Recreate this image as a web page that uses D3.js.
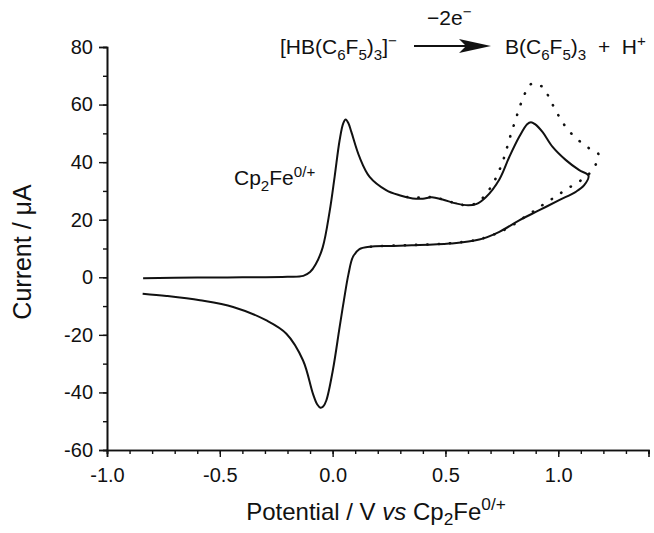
<!DOCTYPE html>
<html>
<head>
<meta charset="utf-8">
<script src="https://cdn.jsdelivr.net/npm/d3@7"></script>
<style>
  body { margin: 0; background: #fff; }
  text { font-family: "Liberation Sans", Arial, sans-serif; fill: #111; white-space: pre; }
</style>
</head>
<body>
<svg id="chart" width="654" height="533"></svg>
<script>
// solid CV loop (forward scan then return), potential in V, current in uA
var solidV = [-0.84, -0.6, -0.4, -0.2, -0.13, -0.10, -0.075, -0.044, -0.013, 0.009, 0.031, 0.047, 0.058, 0.070, 0.083,
  0.119, 0.164, 0.237, 0.296, 0.355, 0.40, 0.44, 0.487, 0.55, 0.60, 0.636, 0.68, 0.739, 0.783, 0.827, 0.862, 0.879,
  0.897, 0.93, 0.975, 1.034, 1.093, 1.134,
  1.115, 1.078, 1.004, 0.916, 0.827, 0.739, 0.65, 0.518, 0.35, 0.25, 0.164, 0.119, 0.09, 0.07, 0.05, 0.031, 0.001,
  -0.028, -0.042, -0.054, -0.068, -0.087, -0.131, -0.205, -0.293, -0.441, -0.588, -0.736, -0.842];
var solidI = [-0.3, -0.1, 0.0, 0.2, 0.5, 1.8, 4.5, 10.4, 23, 35, 47.6, 53.5, 54.8, 53.5, 50.5,
  41.8, 34.9, 30.3, 28.5, 27.4, 27.3, 27.8, 27.0, 25.6, 25.0, 25.4, 27.9, 34.0, 41.8, 48.8, 53.2, 53.9,
  53.2, 50.5, 45.3, 40.7, 37.2, 35.3,
  32.0, 29.7, 26.8, 23.3, 19.8, 15.8, 13.1, 11.7, 11.1, 10.9, 10.6, 9.8, 7.1, 1.0, -8, -17.3, -32.3,
  -42.8, -44.9, -45.3, -44.2, -40.5, -28.9, -19.6, -15.0, -10.3, -8.0, -6.5, -5.7];

// dotted CV (after addition), only the part that differs / is visible
var dotV = [0.33, 0.407, 0.451, 0.5, 0.6, 0.646, 0.687, 0.717, 0.739, 0.757, 0.772, 0.786, 0.801, 0.816, 0.832,
  0.851, 0.870, 0.888, 0.91, 0.935, 0.956, 0.982, 1.009, 1.041, 1.084, 1.131, 1.178,
  1.167, 1.125, 1.078, 1.031, 0.982, 0.934, 0.886, 0.839, 0.792, 0.743, 0.65, 0.518, 0.35, 0.2, 0.14];
var dotI = [27.9, 27.7, 27.9, 26.7, 25.0, 26.2, 29.7, 33.5, 37.2, 40.9, 44.8, 48.6, 52.3, 56.0, 59.8,
  63.6, 66.5, 67.4, 67.0, 65.8, 63.0, 58.9, 55.2, 51.4, 48.0, 45.1, 42.8,
  39.3, 35.0, 32.6, 30.3, 27.7, 25.3, 22.7, 20.3, 17.8, 15.8, 13.2, 11.8, 11.2, 10.8, 10.4];

var xMajor = [-1.0, -0.5, 0.0, 0.5, 1.0];
var yMajor = [-60, -40, -20, 0, 20, 40, 60, 80];

var margin = {top: 47, right: 5, bottom: 83, left: 107};
var width = 654 - margin.left - margin.right;
var height = 533 - margin.top - margin.bottom;

var svg = d3.select("#chart");
var g = svg.append("g").attr("transform", "translate(" + margin.left + "," + margin.top + ")");

var x = d3.scaleLinear().domain([-1.0, 1.4]).range([0, width - 0.5]);
var y = d3.scaleLinear().domain([-60, 80]).range([height, 0]);

var xMinor = d3.range(-10, 15).map(function(i) { return i / 10; });
var yMinor = d3.range(-6, 9).map(function(i) { return i * 10; });

function styleAxis(sel) {
  sel.select(".domain").attr("stroke", "#111").attr("stroke-width", 1.6);
  sel.selectAll(".tick line").attr("stroke", "#111").attr("stroke-width", 1.4);
  sel.selectAll("text").attr("font-size", 20).attr("font-family", "Liberation Sans, Arial, sans-serif").attr("fill", "#111");
}

g.append("g").attr("transform", "translate(0," + height + ")")
  .call(d3.axisBottom(x).tickValues(xMinor).tickSize(4).tickFormat(""))
  .call(styleAxis);
g.append("g").attr("transform", "translate(0," + height + ")")
  .call(d3.axisBottom(x).tickValues(xMajor).tickSize(7).tickPadding(11)
    .tickFormat(function(d) { return d.toFixed(1); }))
  .call(styleAxis);

g.append("g")
  .call(d3.axisLeft(y).tickValues(yMinor).tickSize(4).tickFormat(""))
  .call(styleAxis);
g.append("g")
  .call(d3.axisLeft(y).tickValues(yMajor).tickSize(8).tickPadding(6)
    .tickFormat(function(d) { return String(d); }))
  .call(styleAxis);

var line = d3.line()
  .x(function(d) { return x(d[0]); })
  .y(function(d) { return y(d[1]); })
  .curve(d3.curveCatmullRom.alpha(0.5));

g.append("path")
  .datum(dotV.map(function(v, i) { return [v, dotI[i]]; }))
  .attr("d", line)
  .attr("fill", "none")
  .attr("stroke", "#111")
  .attr("stroke-width", 2.6)
  .attr("stroke-linecap", "round")
  .attr("stroke-dasharray", "0.3 11");

g.append("path")
  .datum(solidV.map(function(v, i) { return [v, solidI[i]]; }))
  .attr("d", line)
  .attr("fill", "none")
  .attr("stroke", "#111")
  .attr("stroke-width", 2)
  .attr("stroke-linejoin", "round");

// text with sub/superscripts
function rich(text, parts, size, subShift) {
  var shift = 0;
  parts.forEach(function(p) {
    var target = p.sub ? size * (subShift || 0.3) : p.sup ? -size * 0.4 : 0;
    text.append("tspan")
      .attr("dy", target - shift)
      .attr("font-size", (p.sub || p.sup) ? size * 0.72 : size)
      .attr("font-style", p.it ? "italic" : null)
      .text(p.t);
    shift = target;
  });
}

rich(svg.append("text").attr("transform", "rotate(-90)").attr("x", -252).attr("y", 31)
    .attr("text-anchor", "middle").attr("font-size", 25),
  [{t: "Current / \u03bcA"}], 25);

rich(svg.append("text").attr("x", 376).attr("y", 520).attr("text-anchor", "middle").attr("font-size", 24),
  [{t: "Potential / V "}, {t: "vs", it: true}, {t: " Cp"}, {t: "2", sub: true}, {t: "Fe"}, {t: "0/+", sup: true}], 24, 0.22);

rich(svg.append("text").attr("x", 234).attr("y", 185).attr("font-size", 21),
  [{t: "Cp"}, {t: "2", sub: true}, {t: "Fe"}, {t: "0/+", sup: true}], 21);

rich(svg.append("text").attr("x", 280).attr("y", 54).attr("font-size", 21),
  [{t: "[HB(C"}, {t: "6", sub: true}, {t: "F"}, {t: "5", sub: true}, {t: ")"}, {t: "3", sub: true}, {t: "]"}, {t: "\u2212", sup: true}], 21);

rich(svg.append("text").attr("x", 427).attr("y", 25).attr("font-size", 21),
  [{t: "\u22122e"}, {t: "\u2212", sup: true}], 21);

rich(svg.append("text").attr("x", 505).attr("y", 54).attr("font-size", 21),
  [{t: "B(C"}, {t: "6", sub: true}, {t: "F"}, {t: "5", sub: true}, {t: ")"}, {t: "3", sub: true}, {t: "  +  H"}, {t: "+", sup: true}], 21);

// reaction arrow
svg.append("line").attr("x1", 414).attr("x2", 470).attr("y1", 46).attr("y2", 46)
  .attr("stroke", "#111").attr("stroke-width", 2);
svg.append("path").attr("d", "M491,46 L459,39 L466,46 L459,53 Z").attr("fill", "#111");
</script>
</body>
</html>
